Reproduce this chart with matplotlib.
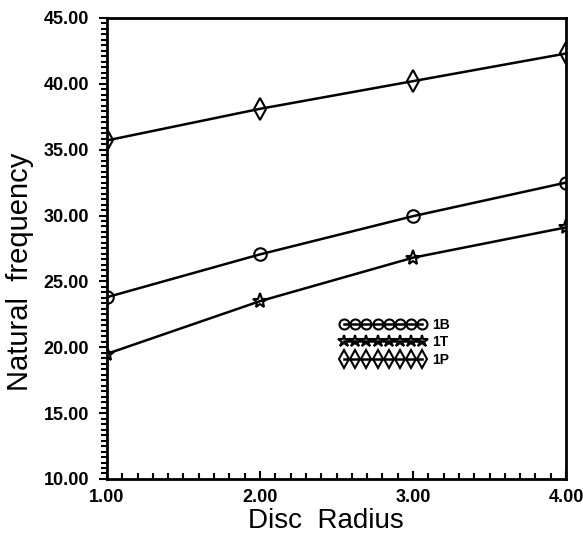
import matplotlib.pyplot as plt
from matplotlib.ticker import MultipleLocator, AutoMinorLocator, FormatStrFormatter

# disc radius vs natural frequency
radius = [1.0, 2.0, 3.0, 4.0]
freq_1b = [23.8, 27.05, 29.95, 32.5]
freq_1t = [19.5, 23.5, 26.8, 29.1]
freq_1p = [35.7, 38.1, 40.2, 42.3]

plt.rcParams['font.family'] = ['Liberation Sans', 'DejaVu Sans']

fig = plt.figure(figsize=(5.83, 5.38), dpi=100)
ax = fig.add_axes([0.1835, 0.1097, 0.7875, 0.857])

mk = dict(color="black", lw=1.8, mfc="none", mec="black", mew=1.5)
ax.plot(radius, freq_1b, marker="o", ms=9, label="1B", **mk)
ax.plot(radius, freq_1t, marker="*", ms=11, label="1T", **mk)
ax.plot(radius, freq_1p, marker="d", ms=11, label="1P", **mk)

ax.set_xlim(1.0, 4.0)
ax.set_ylim(10.0, 45.0)
ax.xaxis.set_major_locator(MultipleLocator(1.0))
ax.xaxis.set_minor_locator(MultipleLocator(0.1))
ax.yaxis.set_major_locator(MultipleLocator(5.0))
ax.yaxis.set_minor_locator(AutoMinorLocator(12))
ax.xaxis.set_major_formatter(FormatStrFormatter("%.2f"))
ax.yaxis.set_major_formatter(FormatStrFormatter("%.2f"))

ax.tick_params(axis="x", which="both", direction="in", width=1.5, labelsize=13, pad=7)
ax.tick_params(axis="x", which="major", length=6)
ax.tick_params(axis="x", which="minor", length=4.5)
ax.tick_params(axis="y", which="both", direction="out", width=1.5, labelsize=13, pad=7)
ax.tick_params(axis="y", which="major", length=6)
ax.tick_params(axis="y", which="minor", length=4.5)
for lab in ax.get_xticklabels() + ax.get_yticklabels():
    lab.set_fontweight("bold")

for sp in ax.spines.values():
    sp.set_linewidth(2)

ax.set_xlabel("Disc  Radius", fontsize=20)
ax.set_ylabel("Natural  frequency", fontsize=21)
ax.xaxis.set_label_coords(0.477, -0.063)
ax.yaxis.set_label_coords(-0.16, 0.45)

leg = ax.legend(loc="center left", bbox_to_anchor=(0.5076, 0.297), frameon=False,
                numpoints=8, handlelength=6.2, handletextpad=0.4, markerscale=0.8,
                borderpad=0, borderaxespad=0, labelspacing=0.25,
                prop={"weight": "bold", "size": 10})

fig.savefig("out.png", dpi=100)
